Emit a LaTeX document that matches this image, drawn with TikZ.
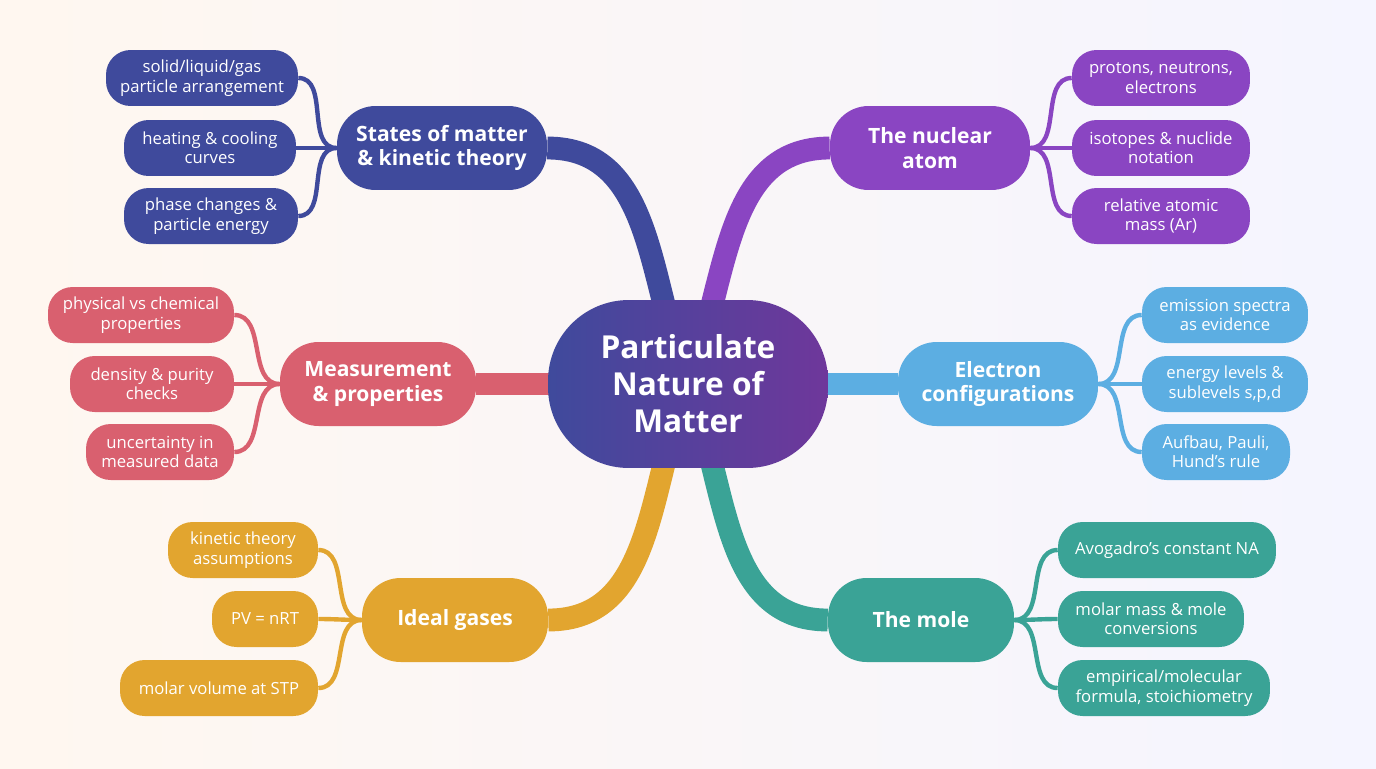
\documentclass[tikz,border=0pt]{standalone}
\usepackage{fontspec}
\setmainfont{Open Sans}
\pgfdeclarelayer{back}
\pgfdeclarelayer{links}
\pgfsetlayers{back,links,main}
\definecolor{cstate}{HTML}{3F4A9C}
\definecolor{catom}{HTML}{8A45C2}
\definecolor{cmeas}{HTML}{D9606F}
\definecolor{celec}{HTML}{5CAEE2}
\definecolor{cgas}{HTML}{E2A52F}
\definecolor{cmole}{HTML}{3AA396}
\tikzset{
  hub/.style = {rounded corners=46pt, text=white, font=\bfseries\fontsize{18}{21}\selectfont, align=center, minimum width=5.6cm, minimum height=3.36cm, shade, left color=cstate, right color=catom!80!black},
  topic/.style = {fill=#1, rounded corners=22pt, text=white, font=\bfseries\fontsize{12}{14}\selectfont, align=center, minimum height=1.68cm},
  leaf/.style = {fill=#1, rounded corners=14pt, text=white, font=\fontsize{9.5}{11}\selectfont, align=center, minimum height=1.12cm},
  trunk/.style = {draw=#1, line width=13pt},
  twig/.style = {draw=#1, line width=2.5pt}
}
\begin{document}
\begin{tikzpicture}[x=0.02cm, y=-0.02cm]
  \begin{pgfonlayer}{back}
    \shade[left color=orange!6, right color=blue!4] (0,0) rectangle (1376,768);
  \end{pgfonlayer}
  \node[hub] (c) at (688,384) {Particulate\\Nature of\\Matter};

  % topics
  \node[topic=cstate, minimum width=4.2cm] (st) at (442,148) {States of matter\\\& kinetic theory};
  \node[topic=catom, minimum width=4cm] (nu) at (930,148) {The nuclear\\atom};
  \node[topic=cmeas, minimum width=3.92cm] (me) at (378,384) {Measurement\\\& properties};
  \node[topic=celec, minimum width=4cm] (el) at (998,384) {Electron\\configurations};
  \node[topic=cgas, minimum width=3.72cm] (ig) at (455,620) {Ideal gases};
  \node[topic=cmole, minimum width=3.72cm] (mo) at (921,620) {The mole};

  % leaves
  \node[leaf=cstate, minimum width=3.84cm] (st1) at (202,78) {solid/liquid/gas\\particle arrangement};
  \node[leaf=cstate, minimum width=3.44cm] (st2) at (210,148) {heating \& cooling\\curves};
  \node[leaf=cstate, minimum width=3.48cm] (st3) at (211,216) {phase changes \&\\particle energy};
  \node[leaf=catom, minimum width=3.56cm] (nu1) at (1161,78) {protons, neutrons,\\electrons};
  \node[leaf=catom, minimum width=3.56cm] (nu2) at (1161,148) {isotopes \& nuclide\\notation};
  \node[leaf=catom, minimum width=3.56cm] (nu3) at (1161,216) {relative atomic\\mass (Ar)};
  \node[leaf=cmeas, minimum width=3.72cm] (me1) at (141,315) {physical vs chemical\\properties};
  \node[leaf=cmeas, minimum width=3.28cm] (me2) at (152,384) {density \& purity\\checks};
  \node[leaf=cmeas, minimum width=2.96cm] (me3) at (160,452) {uncertainty in\\measured data};
  \node[leaf=celec, minimum width=3.32cm] (el1) at (1225,315) {emission spectra\\as evidence};
  \node[leaf=celec, minimum width=3.32cm] (el2) at (1225,384) {energy levels \&\\sublevels s,p,d};
  \node[leaf=celec, minimum width=2.96cm] (el3) at (1216,452) {Aufbau, Pauli,\\Hund's rule};
  \node[leaf=cgas, minimum width=3cm] (ig1) at (243,550) {kinetic theory\\assumptions};
  \node[leaf=cgas, minimum width=2.12cm] (ig2) at (265,619) {PV = nRT};
  \node[leaf=cgas, minimum width=3.96cm] (ig3) at (219,688) {molar volume at STP};
  \node[leaf=cmole, minimum width=4.36cm] (mo1) at (1167,550) {Avogadro's constant NA};
  \node[leaf=cmole, minimum width=3.72cm] (mo2) at (1151,619) {molar mass \& mole\\conversions};
  \node[leaf=cmole, minimum width=4.24cm] (mo3) at (1164,688) {empirical/molecular\\formula, stoichiometry};

  \begin{pgfonlayer}{links}
    \draw[trunk=cstate] (c.center) to[out=112,in=0] (st.east);
    \draw[trunk=catom] (c.center) to[out=68,in=180] (nu.west);
    \draw[trunk=cmeas] (c.center) -- (me.east);
    \draw[trunk=celec] (c.center) -- (el.west);
    \draw[trunk=cgas] (c.center) to[out=248,in=0] (ig.east);
    \draw[trunk=cmole] (c.center) to[out=292,in=180] (mo.west);

    \foreach \i in {1,2,3} {
      \draw[twig=cstate] (st.west) to[out=180,in=0] (st\i.east);
      \draw[twig=catom] (nu.east) to[out=0,in=180] (nu\i.west);
      \draw[twig=cmeas] (me.west) to[out=180,in=0] (me\i.east);
      \draw[twig=celec] (el.east) to[out=0,in=180] (el\i.west);
      \draw[twig=cgas] (ig.west) to[out=180,in=0] (ig\i.east);
      \draw[twig=cmole] (mo.east) to[out=0,in=180] (mo\i.west);
    }
  \end{pgfonlayer}
\end{tikzpicture}
\end{document}
